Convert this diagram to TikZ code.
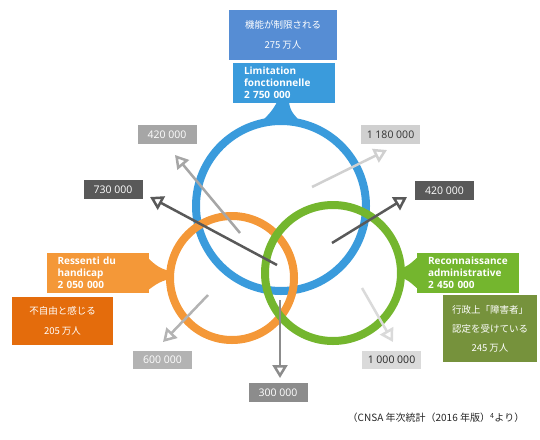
\documentclass[tikz,border=0pt]{standalone}
\usepackage{fontspec}
\setmainfont{Open Sans}
\newfontfamily\cjk{Noto Sans CJK JP}
\usetikzlibrary{arrows.meta}

\definecolor{ringblue}{RGB}{58,155,220}
\definecolor{jpblue}{RGB}{86,141,212}
\definecolor{ringorange}{RGB}{244,152,56}
\definecolor{jporange}{RGB}{228,108,12}
\definecolor{ringgreen}{RGB}{116,182,46}
\definecolor{jpgreen}{RGB}{118,146,60}
\definecolor{grey1}{RGB}{166,166,166}
\definecolor{grey2}{RGB}{89,89,89}
\definecolor{grey3}{RGB}{208,208,208}
\definecolor{grey4}{RGB}{179,179,179}
\definecolor{grey5}{RGB}{140,140,140}
\definecolor{grey6}{RGB}{218,218,218}

\begin{document}
\begin{tikzpicture}
[x=1pt, y=-1pt, >={Triangle[open, length=13pt, width=15pt, fill=white]},
font=\fontsize{9}{11}\selectfont,
ring/.style={line width=8pt},
label box/.style={text width=80pt, inner xsep=11pt, inner ysep=2pt, minimum height=40pt,
  align=left, text=white, font=\fontsize{10}{12}\selectfont\bfseries},
jp box/.style={align=center, text=white, inner sep=0pt, font=\cjk\fontsize{9.5}{20}\selectfont},
num/.style={minimum width=59pt, minimum height=19pt, inner sep=0pt, font=\fontsize{10.5}{12}\selectfont},
pointer/.style={->, line width=2.5pt}
]
  \useasboundingbox (0,0) rectangle (540,439);

  % circles
  \draw[ring, ringblue]   (281,206) circle (85);
  \draw[ring, ringorange] (232,278) circle (62);
  \draw[ring, ringgreen]  (333,273) circle (68);

  % tabs
  \fill[ringblue] (277,102) -- (289,102) .. controls (290,112) and (296,117) .. (301,122)
    -- (261,122) .. controls (266,117) and (272,112) .. (277,102);
  \fill[ringorange] (147,257) .. controls (156,266) and (162,270) .. (172,271)
    -- (172,279) .. controls (162,280) and (156,284) .. (147,291) -- cycle;
  \fill[ringgreen] (419,256) .. controls (410,264) and (406,268) .. (398,269)
    -- (398,277) .. controls (406,278) and (410,282) .. (419,290) -- cycle;

  % labels
  \node[label box, fill=ringblue]   (lim) at (284,83)   {Limitation\\fonctionnelle\\2 750 000};
  \node[label box, fill=ringorange] (res) at (97.5,273) {Ressenti du\\handicap\\2 050 000};
  \node[label box, fill=ringgreen]  (rec) at (468,272.5) {Reconnaissance\\administrative\\2 450 000};

  \node[jp box, fill=jpblue, minimum width=108pt, minimum height=50pt]   (jlim) at (283,35)
    {機能が制限される\\275 万人};
  \node[jp box, fill=jporange, minimum width=101pt, minimum height=48pt] (jres) at (62.5,321)
    {不自由と感じる\\205 万人};
  \node[jp box, fill=jpgreen, minimum width=94pt, minimum height=67pt,
    font=\cjk\fontsize{9.5}{19}\selectfont] (jrec) at (490,328.5)
    {行政上「障害者」\\認定を受けている\\245 万人};

  % numbers
  \node[num, fill=grey1, text=white]   (n1) at (167,134.5)   {420 000};
  \node[num, fill=grey2, text=white]   (n2) at (113,189.5)   {730 000};
  \node[num, fill=grey3, text=black!80] (n3) at (390.5,134.5) {1 180 000};
  \node[num, fill=grey2, text=white]   (n4) at (444.5,190.5) {420 000};
  \node[num, fill=grey4, text=white, minimum height=18pt] (n5) at (162.5,360) {600 000};
  \node[num, fill=grey5, text=white]   (n6) at (278,392.5)   {300 000};
  \node[num, fill=grey6, text=black!85, minimum height=18pt] (n7) at (391.5,360) {1 000 000};

  % pointers
  \coordinate (s1) at (240,233); \coordinate (t1) at (175,155);
  \coordinate (s2) at (277,265); \coordinate (t2) at (150,197);
  \coordinate (s3) at (312,187); \coordinate (t3) at (387,150);
  \coordinate (s4) at (332,243); \coordinate (t4) at (407,197);
  \coordinate (s5) at (208,295); \coordinate (t5) at (163,342);
  \coordinate (s6) at (280,300); \coordinate (t6) at (280,378);
  \coordinate (s7) at (362,288); \coordinate (t7) at (393,342);

  \draw[pointer, grey1] (s1) -- (t1);
  \draw[pointer, grey2] (s2) -- (t2);
  \draw[pointer, grey3] (s3) -- (t3);
  \draw[pointer, grey2] (s4) -- (t4);
  \draw[pointer, grey4] (s5) -- (t5);
  \draw[pointer, grey5] (s6) -- (t6);
  \draw[pointer, grey6] (s7) -- (t7);

  \node[font=\cjk\fontsize{10}{12}\selectfont, text=black!85] (src) at (436,418)
    {（CNSA 年次統計（2016 年版）\textsuperscript{4}より）};
\end{tikzpicture}
\end{document}
